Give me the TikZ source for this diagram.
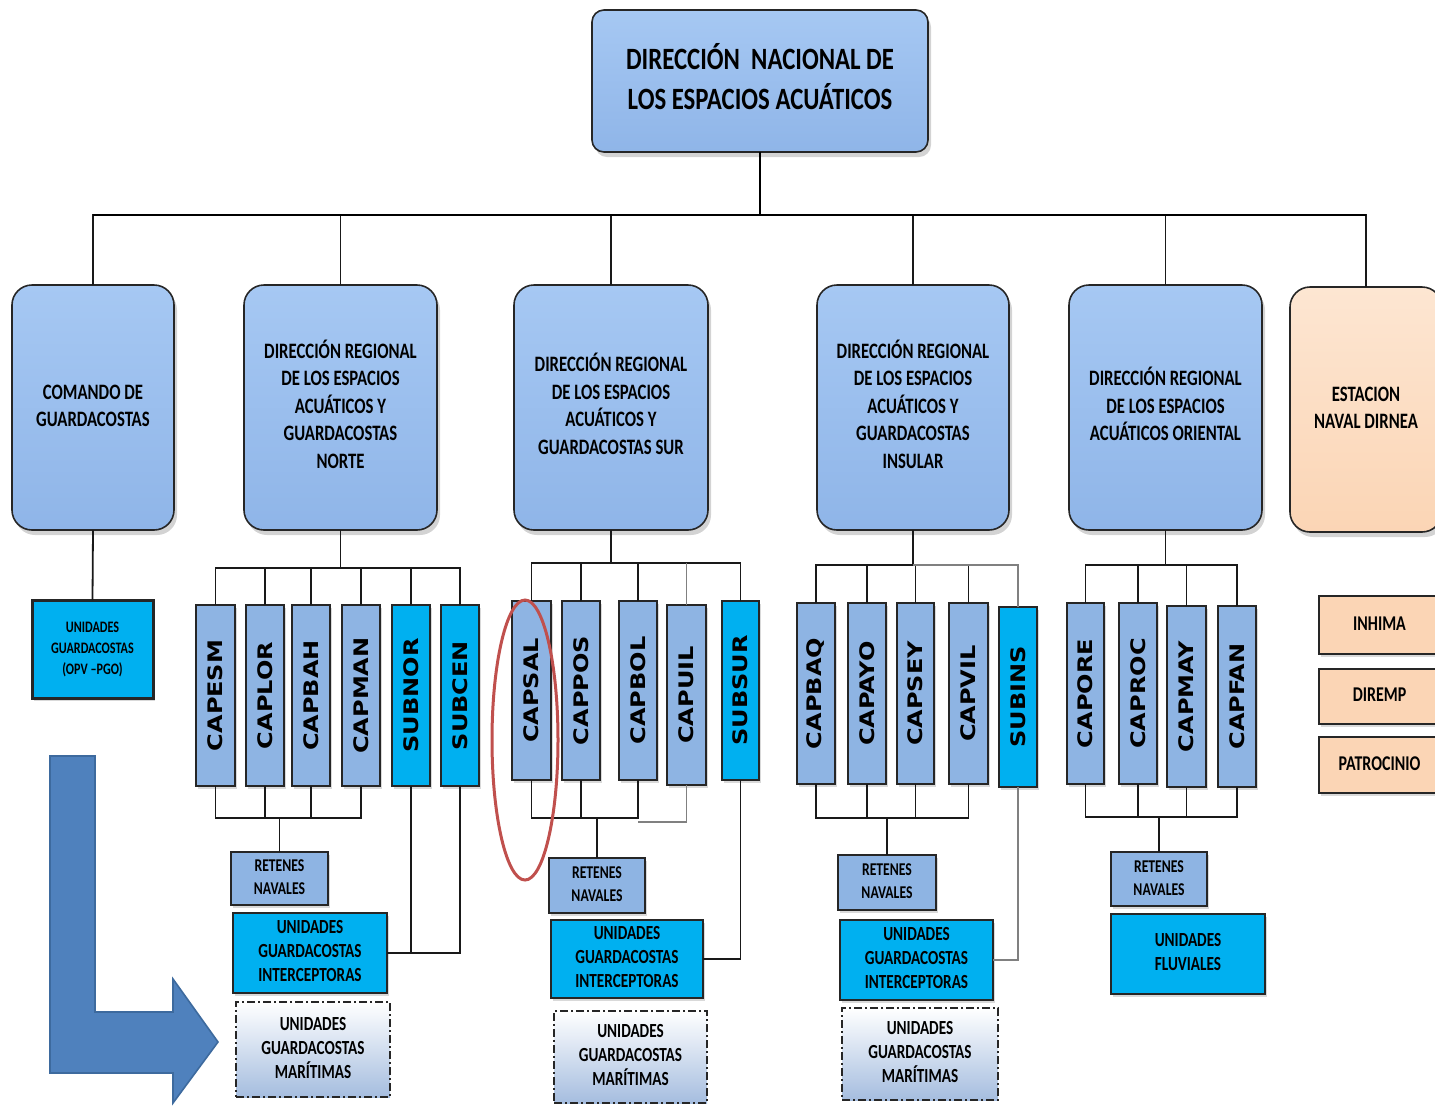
\documentclass[tikz,border=0pt]{standalone}
\usepackage{fontspec}
\setmainfont{Carlito}
\newfontfamily\djv{DejaVu Sans}
\usepackage{graphicx}
\usetikzlibrary{shadows,shapes.geometric}
\definecolor{lbtop}{HTML}{A6C8F3}
\definecolor{lbbot}{HTML}{8FB5E8}
\definecolor{tb}{HTML}{8EB4E3}
\definecolor{cy}{HTML}{00B0F0}
\definecolor{peach}{HTML}{FBD5B5}
\definecolor{peachtop}{HTML}{FDE6D2}
\definecolor{ugmb}{HTML}{A5BDDF}
\definecolor{arrowblue}{HTML}{4F81BD}
\definecolor{arrowedge}{HTML}{3D6A9E}
\definecolor{redmark}{HTML}{C0504D}
\newcommand{\ctx}[4][0.76]{{\fontsize{#2}{#3}\selectfont\bfseries\scalebox{#1}[1]{\begin{tabular}{@{}c@{}}#4\end{tabular}}}}
\newcommand{\vlab}[1]{\rotatebox{90}{\scalebox{1.2}[1]{\fontsize{10}{12}\selectfont\djv\bfseries #1}}}
\newcommand{\mkbox}[7]{\node[#2, minimum width={(#5-#3)*0.5pt}, minimum height={(#6-#4)*0.5pt}] (#1) at ({(#3+#5)/2},{(#4+#6)/2}) {#7};}
\begin{document}
\begin{tikzpicture}[x=0.5pt,y=-0.5pt,
  base/.style={inner sep=0pt, outer sep=0pt, line width=0.8pt, draw=black!85},
  shad/.style={drop shadow={opacity=0.35, shadow xshift=1.5pt, shadow yshift=-2.5pt}},
  topbox/.style={base, rounded corners=6pt, top color=lbtop, bottom color=lbbot, shad},
  rbox/.style={base, rounded corners=10pt, top color=lbtop, bottom color=lbbot, shad},
  pbox/.style={base, rounded corners=10pt, top color=peachtop, bottom color=peach, shad},
  tbox/.style={base, fill=tb, drop shadow={opacity=0.3, shadow xshift=1pt, shadow yshift=-1.5pt}},
  cbox/.style={base, fill=cy, drop shadow={opacity=0.3, shadow xshift=1pt, shadow yshift=-1.5pt}},
  sbox/.style={base, fill=peach, drop shadow={opacity=0.3, shadow xshift=1pt, shadow yshift=-1.5pt}},
  ugm/.style={base, line width=1pt, dash pattern=on 4pt off 1.5pt on 1pt off 1.5pt, top color=white, bottom color=ugmb},
  conn/.style={line width=0.9pt, draw=black!90},
  gconn/.style={line width=0.9pt, draw=black!50},
  mainconn/.style={line width=1.2pt, draw=black}
]
\useasboundingbox (0,0) rectangle (1435,1105);

% top
\mkbox{dn}{topbox}{592}{10}{928}{152}{\ctx[0.8]{15.5}{20}{DIRECCIÓN\ \ NACIONAL DE\\LOS ESPACIOS ACUÁTICOS}}

% level 2
\mkbox{cg}{rbox}{12}{285}{174}{530}{\ctx{11}{13.75}{COMANDO DE\\GUARDACOSTAS}}
\mkbox{drn}{rbox}{244}{285}{437}{530}{\ctx{11}{13.75}{DIRECCIÓN REGIONAL\\DE LOS ESPACIOS\\ACUÁTICOS Y\\GUARDACOSTAS\\NORTE}}
\mkbox{drs}{rbox}{514}{285}{708}{530}{\ctx{11}{13.75}{DIRECCIÓN REGIONAL\\DE LOS ESPACIOS\\ACUÁTICOS Y\\GUARDACOSTAS SUR}}
\mkbox{dri}{rbox}{817}{285}{1009}{530}{\ctx{11}{13.75}{DIRECCIÓN REGIONAL\\DE LOS ESPACIOS\\ACUÁTICOS Y\\GUARDACOSTAS\\INSULAR}}
\mkbox{dro}{rbox}{1069}{285}{1262}{530}{\ctx{11}{13.75}{DIRECCIÓN REGIONAL\\DE LOS ESPACIOS\\ACUÁTICOS ORIENTAL}}
\mkbox{est}{pbox}{1290}{287}{1442}{532}{\ctx{11}{13.75}{ESTACION\\NAVAL DIRNEA}}

% comando
\mkbox{opv}{cbox, line width=1.5pt}{32}{600}{153}{698}{\ctx{8}{10.5}{UNIDADES\\GUARDACOSTAS\\(OPV –PGO)}}

% norte
\mkbox{capesm}{tbox}{196}{605}{235}{786}{\vlab{CAPESM}}
\mkbox{caplor}{tbox}{246}{605}{284}{786}{\vlab{CAPLOR}}
\mkbox{capbah}{tbox}{292}{605}{330}{786}{\vlab{CAPBAH}}
\mkbox{capman}{tbox}{342}{605}{380}{786}{\vlab{CAPMAN}}
\mkbox{subnor}{cbox}{392}{605}{430}{786}{\vlab{SUBNOR}}
\mkbox{subcen}{cbox}{441}{605}{479}{786}{\vlab{SUBCEN}}
\mkbox{retn}{tbox}{231}{852}{328}{905}{\ctx{9}{11.5}{RETENES\\NAVALES}}
\mkbox{ugin}{cbox, line width=1.2pt}{233}{913}{387}{993}{\ctx{10}{12}{UNIDADES\\GUARDACOSTAS\\INTERCEPTORAS}}
\mkbox{ugmn}{ugm}{236}{1002}{390}{1097}{\ctx{10}{12}{UNIDADES\\GUARDACOSTAS\\MARÍTIMAS}}

% sur
\mkbox{capsal}{tbox}{512}{601}{551}{780}{\vlab{CAPSAL}}
\mkbox{cappos}{tbox}{562}{601}{600}{780}{\vlab{CAPPOS}}
\mkbox{capbol}{tbox}{619}{601}{657}{780}{\vlab{CAPBOL}}
\mkbox{capuil}{tbox}{667}{605}{706}{785}{\vlab{CAPUIL}}
\mkbox{subsur}{cbox}{722}{601}{759}{780}{\vlab{SUBSUR}}
\mkbox{rets}{tbox}{549}{858}{645}{913}{\ctx{9}{11.5}{RETENES\\NAVALES}}
\mkbox{ugis}{cbox, line width=1.2pt}{551}{920}{703}{998}{\ctx{10}{12}{UNIDADES\\GUARDACOSTAS\\INTERCEPTORAS}}
\mkbox{ugms}{ugm}{554}{1011}{707}{1103}{\ctx{10}{12}{UNIDADES\\GUARDACOSTAS\\MARÍTIMAS}}

% insular
\mkbox{capbaq}{tbox}{797}{603}{835}{784}{\vlab{CAPBAQ}}
\mkbox{capayo}{tbox}{848}{603}{886}{784}{\vlab{CAPAYO}}
\mkbox{capsey}{tbox}{897}{603}{934}{784}{\vlab{CAPSEY}}
\mkbox{capvil}{tbox}{949}{603}{988}{784}{\vlab{CAPVIL}}
\mkbox{subins}{cbox}{999}{607}{1037}{787}{\vlab{SUBINS}}
\mkbox{reti}{tbox}{838}{855}{936}{910}{\ctx{9}{11.5}{RETENES\\NAVALES}}
\mkbox{ugii}{cbox, line width=1.2pt}{840}{920}{993}{1000}{\ctx{10}{12}{UNIDADES\\GUARDACOSTAS\\INTERCEPTORAS}}
\mkbox{ugmi}{ugm}{842}{1008}{998}{1100}{\ctx{10}{12}{UNIDADES\\GUARDACOSTAS\\MARÍTIMAS}}

% oriental
\mkbox{capore}{tbox}{1067}{603}{1104}{784}{\vlab{CAPORE}}
\mkbox{caproc}{tbox}{1119}{603}{1157}{784}{\vlab{CAPROC}}
\mkbox{capmay}{tbox}{1167}{606}{1206}{787}{\vlab{CAPMAY}}
\mkbox{capfan}{tbox}{1218}{606}{1256}{787}{\vlab{CAPFAN}}
\mkbox{reto}{tbox}{1111}{852}{1207}{906}{\ctx{9}{11.5}{RETENES\\NAVALES}}
\mkbox{ufl}{cbox, line width=1.2pt}{1111}{914}{1265}{994}{\ctx{10}{12}{UNIDADES\\FLUVIALES}}

% peach small
\mkbox{inhima}{sbox}{1319}{596}{1440}{654}{\ctx{10.5}{13}{INHIMA}}
\mkbox{diremp}{sbox}{1319}{669}{1440}{724}{\ctx{10.5}{13}{DIREMP}}
\mkbox{patro}{sbox}{1319}{737}{1440}{793}{\ctx{10.5}{13}{PATROCINIO}}

% connectors main
\coordinate (bus) at (760,215);
\draw[mainconn] (dn.south) -- (bus);
\foreach \n in {cg,drn,drs,dri,dro,est} \draw[conn] (\n.north) |- (bus);
\draw[mainconn] (cg.north |- bus) -- (est.north |- bus);
\draw[conn] (cg.south) -- (opv.north);

% norte connectors
\draw[conn] (drn.south) -- ++(0,38) coordinate (nb);
\foreach \n in {capesm,caplor,capbah,capman,subnor,subcen} \draw[conn] (\n.north) |- (nb);
\draw[conn] (retn.north) -- ++(0,-34) coordinate (nbb);
\foreach \n in {capesm,capman} \draw[conn] (\n.south) |- (nbb);
\foreach \n in {caplor,capbah} \draw[conn] (\n.south) -- (\n.south |- nbb);
\draw[conn] (subcen.south) |- (ugin.east);
\draw[conn] (subnor.south) -- (subnor.south |- ugin.east);

% sur connectors
\draw[conn] (drs.south) -- ++(0,33) coordinate (sb);
\foreach \n in {capsal,cappos,capbol,subsur} \draw[conn] (\n.north) |- (sb);
\draw[gconn] (capuil.north) -- (capuil.north |- sb);
\draw[conn] (rets.north) -- ++(0,-40) coordinate (sbb);
\foreach \n in {capsal,capbol} \draw[conn] (\n.south) |- (sbb);
\draw[conn] (cappos.south) -- (cappos.south |- sbb);
\draw[gconn] (capuil.south) |- ([yshift=-2pt]capbol.south |- sbb);
\draw[conn] (subsur.south) |- (ugis.east);

% insular connectors
\draw[conn] (dri.south) -- ++(0,35) coordinate (ib);
\foreach \n in {capbaq,capayo,capsey,capvil} \draw[conn] (\n.north) |- (ib);
\draw[gconn] (subins.north) |- (ib);
\draw[conn] (reti.north) -- ++(0,-37) coordinate (ibb);
\foreach \n in {capbaq,capvil} \draw[conn] (\n.south) |- (ibb);
\foreach \n in {capayo,capsey} \draw[conn] (\n.south) -- (\n.south |- ibb);
\draw[gconn] (subins.south) |- (ugii.east);

% oriental connectors
\draw[conn] (dro.south) -- ++(0,35) coordinate (ob);
\foreach \n in {capore,caproc,capmay,capfan} \draw[conn] (\n.north) |- (ob);
\draw[conn] (reto.north) -- ++(0,-35) coordinate (obb);
\foreach \n in {capore,capfan} \draw[conn] (\n.south) |- (obb);
\foreach \n in {caproc,capmay} \draw[conn] (\n.south) -- (\n.south |- obb);

% big arrow
\filldraw[fill=arrowblue, draw=arrowedge, line width=0.8pt]
  (50,756) -- (95,756) -- (95,1012) -- (173,1012) -- (173,979) -- (218,1042)
  -- (173,1103) -- (173,1073) -- (50,1073) -- cycle;

% red ellipse
\node[draw=redmark, line width=1.5pt, ellipse, minimum width=33pt, minimum height=140pt, inner sep=0pt] (mark) at (525,740) {};
\end{tikzpicture}
\end{document}
